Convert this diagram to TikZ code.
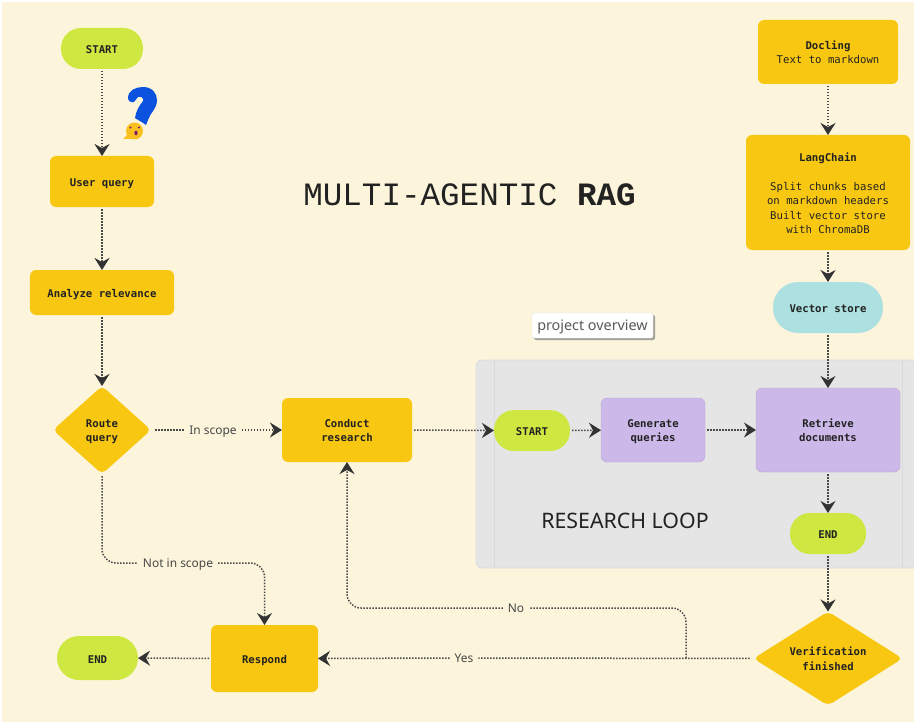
\documentclass[tikz,border=0pt]{standalone}
\usepackage{fontspec}
\setmainfont{Noto Sans}
\newfontfamily\plexmono{DejaVu Sans Mono}
\newfontfamily\titlemono{Liberation Mono}
\usetikzlibrary{arrows.meta,shapes.geometric,shadows}
\definecolor{cream}{HTML}{FCF5DC}
\definecolor{amber}{HTML}{F8C712}
\definecolor{lime}{HTML}{CEE741}
\definecolor{lilac}{HTML}{CDB8EA}
\definecolor{aqua}{HTML}{ADE0E0}
\definecolor{loopgrey}{HTML}{E5E5E5}
\definecolor{loopedge}{HTML}{DADADA}
\definecolor{ink}{HTML}{222222}
\definecolor{wire}{HTML}{4A4A4A}
\definecolor{tipc}{HTML}{333333}
\definecolor{qblue}{HTML}{0B53DE}
\definecolor{facey}{HTML}{F9C01E}
\definecolor{facep}{HTML}{7B1D6F}
\newcommand{\toprl}{\rule{0pt}{12pt}}
\newcommand{\toprll}{\rule{0pt}{13pt}}
\tikzset{
  x=1bp,y=-1bp,
  every node/.style={inner sep=0pt,outer sep=0pt},
  flowtext/.style={font=\plexmono\bfseries\fontsize{10.7}{14.5}\selectfont,text=ink,align=center,
    execute at begin node={\rule{0pt}{13.5pt}},execute at end node={\rule[-3pt]{0pt}{3pt}}},
  rectbox/.style={flowtext,rectangle,rounded corners=6bp,fill=amber},
  lilacbox/.style={flowtext,rectangle,rounded corners=6bp,fill=lilac,draw=lilac!90!black,line width=.4pt},
  pill/.style={flowtext,rectangle,rounded corners=20bp,fill=lime},
  decision/.style={flowtext,diamond,rounded corners=5bp,fill=amber},
  wirelabel/.style={font=\fontsize{12}{14}\selectfont,text=black!72,fill=cream,inner xsep=5bp,text height=11pt,text depth=2pt},
  flow/.style={wire,line width=1.5bp,dash pattern=on 1.5bp off 1.5bp,shorten <=2bp,
    -{Stealth[length=12bp,width=15bp,inset=4bp,sep=0pt,color=tipc]}},
}
\begin{document}
\begin{tikzpicture}
\useasboundingbox (0,0) rectangle (914,724);
\fill[white] (0,0) rectangle (914,724);
\fill[cream] (2,2) rectangle (914,722);
% research loop container
\filldraw[fill=loopgrey,draw=loopedge,line width=.6pt,rounded corners=6bp] (476,360) rectangle (920,568);
\draw[loopedge,line width=1pt] (494,360) -- (494,568);
\draw[loopedge,line width=1pt] (902,360) -- (902,568);
\node[font=\fontsize{21.4}{24}\selectfont,text=ink] (looplabel) at (625,521) {RESEARCH LOOP};
% title
\node[font=\titlemono\fontsize{32.7}{36}\selectfont,text=ink] (title) at (469.5,195) {MULTI-AGENTIC \textbf{RAG}};
% tooltip
\node[rectangle,rounded corners=2bp,fill=white,draw=black!12,line width=.4pt,minimum width=121bp,minimum height=25bp,
  font=\fontsize{14.4}{15}\selectfont,text=black!65,text height=13pt,text depth=3pt,
  drop shadow={shadow xshift=2bp,shadow yshift=-2bp,fill=black!45,opacity=.8}] (tip) at (592.5,325.5) {project overview};
% nodes
\node[pill,minimum width=82bp,minimum height=41bp] (start) at (102,48.5) {START};
\node[rectbox,minimum width=104bp,minimum height=51bp] (user) at (102,181.5) {User query};
\node[rectbox,minimum width=144bp,minimum height=45bp] (analyze) at (102,292.5) {Analyze relevance};
\node[decision,aspect=1.12,minimum width=98bp,minimum height=88bp] (route) at (102,430) {\toprl Route\\query};
\node[rectbox,minimum width=130bp,minimum height=64bp] (conduct) at (347,430) {\toprl Conduct\\research};
\node[pill,minimum width=76bp,minimum height=41bp] (start2) at (532,430.5) {START};
\node[lilacbox,minimum width=104bp,minimum height=64bp] (generate) at (653,430) {\toprl Generate\\queries};
\node[lilacbox,minimum width=144bp,minimum height=84bp] (retrieve) at (828,430) {\toprl Retrieve\\documents};
\node[pill,minimum width=76bp,minimum height=41bp] (end2) at (828,533.5) {END};
\node[decision,aspect=1.6,minimum width=149bp,minimum height=94bp] (verify) at (828,658.5) {\toprl Verification\\finished};
\node[rectbox,minimum width=107bp,minimum height=67bp] (respond) at (264.5,658.5) {Respond};
\node[pill,rounded corners=22bp,minimum width=81bp,minimum height=44bp] (end) at (97.5,658) {END};
\node[rectbox,minimum width=140bp,minimum height=64bp] (docling) at (828,52) {\toprl Docling\\\mdseries Text to markdown};
\node[rectbox,minimum width=164bp,minimum height=115bp] (lang) at (828,192.5) {\toprll LangChain\\[14.5pt]\mdseries Split chunks based\\\mdseries on markdown headers\\\mdseries Built vector store\\\mdseries with ChromaDB};
\node[pill,rounded corners=25bp,fill=aqua,minimum width=110bp,minimum height=51bp] (vector) at (828,307.5) {Vector store};
% wire labels and way-points
\node[wirelabel] (inscope) at (213,430) {In scope};
\node[wirelabel] (notscope) at (178,563) {Not in scope};
\node[wirelabel] (yes) at (464,658) {Yes};
\node[wirelabel] (no) at (516,608) {No};
\coordinate (joint) at (686,658);
% connectors
\draw[flow] (start) -- (user);
\draw[flow] (user) -- (analyze);
\draw[flow] (analyze) -- (route);
\draw[flow,shorten <=4bp,-] (route.east) -- (inscope.west);
\draw[flow,shorten <=0pt] (inscope.east) -- (conduct.west);
\draw[flow,rounded corners=14bp,-] (route.south) |- (notscope.west);
\draw[flow,rounded corners=14bp,shorten <=0pt] (notscope.east) -| (respond.north);
\draw[flow] (conduct.east) -- (start2.west);
\draw[flow] (start2) -- (generate);
\draw[flow] (generate) -- (retrieve);
\draw[flow] (retrieve) -- (end2);
\draw[flow] (end2) -- (verify);
\draw[flow] (docling) -- (lang);
\draw[flow] (lang) -- (vector);
\draw[flow] (vector) -- (retrieve);
\draw[flow] (respond) -- (end);
\draw[flow,shorten <=4bp,-] (verify.west) -- (yes.east);
\draw[flow,shorten <=0pt] (yes.west) -- (respond.east);
\draw[flow,rounded corners=14bp,-,shorten <=0pt] (joint) |- (no.east);
\draw[flow,rounded corners=14bp,shorten <=0pt] (no.west) -| (conduct.south);
% emoji
\fill[qblue] (128,98) .. controls (128,90) and (136,87) .. (143,87)
  .. controls (152,87) and (157,93) .. (157,100) .. controls (157,109) and (150,113) .. (148,120)
  -- (146,125) .. controls (142,122) and (138,120) .. (135,118)
  .. controls (136,111) and (139,106) .. (143,101) .. controls (144,98) and (141,96) .. (138,97)
  .. controls (136,98) and (136,101) .. (134,102) .. controls (131,103) and (128,101) .. (128,98) -- cycle;
\fill[facey] (134.5,131) circle[radius=8.5];
\fill[facey] (128,134) -- (123,139) -- (133,139) -- cycle;
\fill[facep] (130.5,127.5) circle[radius=1.1] (139,127.5) circle[radius=1.1];
\fill[facep] (136,133) ellipse[x radius=1.6,y radius=2.4];
\end{tikzpicture}
\end{document}
